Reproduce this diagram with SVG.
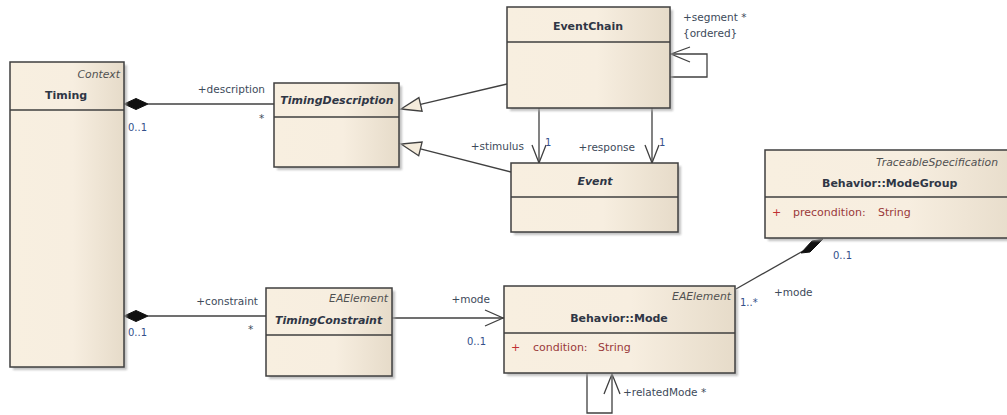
<svg xmlns="http://www.w3.org/2000/svg" width="1007" height="415" viewBox="0 0 1007 415">
  <defs>
    <linearGradient id="boxFill" x1="0" y1="0" x2="1" y2="0">
      <stop offset="0" stop-color="#f8efe0"/>
      <stop offset="0.55" stop-color="#f7eee0"/>
      <stop offset="1" stop-color="#e6dbc9"/>
    </linearGradient>
    <filter id="soft" x="-5%" y="-5%" width="110%" height="110%">
      <feGaussianBlur stdDeviation="0.8"/>
    </filter>
  </defs>
  <style>
    .shadow { fill: #a9a9a9; opacity: 0.7; filter: url(#soft); }
    .box { fill: url(#boxFill); stroke: #3f3f3f; stroke-width: 1.5; }
    .sep { stroke: #3f3f3f; stroke-width: 1.5; }
    .name { font-family: "DejaVu Sans", sans-serif; font-size: 11px; font-weight: bold; fill: #2f3645; }
    .abstract { font-style: italic; }
    .stereo { font-family: "DejaVu Sans", sans-serif; font-size: 10.8px; font-style: italic; fill: #505050; }
    .attr { font-family: "DejaVu Sans", sans-serif; font-size: 11px; fill: #9a3a3a; }
    .vis { font-family: "DejaVu Sans", sans-serif; font-size: 11px; fill: #c03030; }
    .role { font-family: "DejaVu Sans", sans-serif; font-size: 10.5px; fill: #3d4a5a; }
    .mult { font-family: "DejaVu Sans", sans-serif; font-size: 10px; fill: #33508a; }
    .edge { fill: none; stroke: #404040; stroke-width: 1.3; }
    .open { fill: none; stroke: #404040; stroke-width: 1.3; }
    .tri { fill: #f5ecdc; stroke: #404040; stroke-width: 1.3; }
    .dia { fill: #101010; stroke: #101010; stroke-width: 1; }
  </style>

  <!-- connectors -->
  <g id="connectors">
    <!-- Timing composes TimingDescription -->
    <line class="edge" x1="148" y1="104" x2="274" y2="104"/>
    <polygon class="dia" points="124,104 136,98.5 148,104 136,109.5"/>
    <text class="role" x="265" y="93" text-anchor="end">+description</text>
    <text class="mult" x="128" y="131">0..1</text>
    <text class="role" x="259" y="122">*</text>

    <!-- EventChain generalizes TimingDescription -->
    <line class="edge" x1="507" y1="84" x2="420.5" y2="104.4"/>
    <polygon class="tri" points="401,109 422.1,111.2 418.9,97.6"/>

    <!-- Event generalizes TimingDescription -->
    <line class="edge" x1="511" y1="172" x2="420.4" y2="148.9"/>
    <polygon class="tri" points="401,144 418.7,155.7 422.1,142.1"/>

    <!-- EventChain to Event: stimulus / response -->
    <line class="edge" x1="539" y1="108" x2="539" y2="163"/>
    <polyline class="open" points="532,145 539,163 546,145"/>
    <line class="edge" x1="652" y1="108" x2="652" y2="163"/>
    <polyline class="open" points="645,145 652,163 659,145"/>
    <text class="role" x="524" y="150" text-anchor="end">+stimulus</text>
    <text class="mult" x="545" y="146">1</text>
    <text class="role" x="635" y="151" text-anchor="end">+response</text>
    <text class="mult" x="659" y="146">1</text>

    <!-- EventChain segment self association -->
    <polyline class="edge" points="670,77 707,77 707,54 670,54"/>
    <polyline class="open" points="690,47 671,54 690,62"/>
    <text class="role" x="683" y="21">+segment *</text>
    <text class="role" x="683" y="37">{ordered}</text>

    <!-- Timing composes TimingConstraint -->
    <line class="edge" x1="148" y1="316" x2="266" y2="316"/>
    <polygon class="dia" points="124,316 136,310.5 148,316 136,321.5"/>
    <text class="role" x="258" y="305" text-anchor="end">+constraint</text>
    <text class="mult" x="128" y="336">0..1</text>
    <text class="role" x="248" y="333">*</text>

    <!-- TimingConstraint to Mode -->
    <line class="edge" x1="392" y1="318" x2="504" y2="318"/>
    <polyline class="open" points="485,310 503,318 485,326"/>
    <text class="role" x="490" y="303" text-anchor="end">+mode</text>
    <text class="mult" x="467" y="345">0..1</text>

    <!-- ModeGroup composes Mode -->
    <line class="edge" x1="736" y1="289" x2="803" y2="251"/>
    <polygon class="dia" points="801,253 812,241 823,239 810,252"/>
    <text class="mult" x="833" y="259">0..1</text>
    <text class="role" x="774" y="296">+mode</text>
    <text class="mult" x="740" y="306">1..*</text>

    <!-- Mode relatedMode self association -->
    <polyline class="edge" points="587,373 587,413 612,413 612,374"/>
    <polyline class="open" points="604,394 612,374 620,394"/>
    <text class="role" x="623" y="396">+relatedMode *</text>
  </g>

  <!-- Timing -->
  <g id="timing">
    <rect class="shadow" x="13" y="65" width="114" height="305"/>
    <rect class="box" x="10" y="62" width="114" height="305"/>
    <line class="sep" x1="10" y1="110" x2="124" y2="110"/>
    <text class="stereo" x="120" y="78" text-anchor="end">Context</text>
    <text class="name" x="45" y="99">Timing</text>
  </g>

  <!-- TimingDescription -->
  <g id="timingDescription">
    <rect class="shadow" x="277" y="86" width="125" height="84"/>
    <rect class="box" x="274" y="83" width="125" height="84"/>
    <line class="sep" x1="274" y1="117" x2="399" y2="117"/>
    <text class="name abstract" x="337" y="104" text-anchor="middle">TimingDescription</text>
  </g>

  <!-- EventChain -->
  <g id="eventChain">
    <rect class="shadow" x="510" y="10" width="163" height="101"/>
    <rect class="box" x="507" y="7" width="163" height="101"/>
    <line class="sep" x1="507" y1="42" x2="670" y2="42"/>
    <text class="name" x="588" y="30" text-anchor="middle">EventChain</text>
  </g>

  <!-- Event -->
  <g id="event">
    <rect class="shadow" x="514" y="166" width="167" height="69"/>
    <rect class="box" x="511" y="163" width="167" height="69"/>
    <line class="sep" x1="511" y1="197" x2="678" y2="197"/>
    <text class="name abstract" x="595" y="185" text-anchor="middle">Event</text>
  </g>

  <!-- Behavior::ModeGroup -->
  <g id="modeGroup">
    <rect class="shadow" x="768" y="153" width="260" height="88"/>
    <rect class="box" x="765" y="150" width="260" height="88"/>
    <line class="sep" x1="765" y1="197" x2="1025" y2="197"/>
    <text class="stereo" x="876" y="166">TraceableSpecification</text>
    <text class="name" x="822" y="187">Behavior::ModeGroup</text>
    <text class="vis" x="772" y="216">+</text>
    <text class="attr" x="793" y="216">precondition:</text>
    <text class="attr" x="878" y="216">String</text>
  </g>

  <!-- TimingConstraint -->
  <g id="timingConstraint">
    <rect class="shadow" x="269" y="291" width="126" height="88"/>
    <rect class="box" x="266" y="288" width="126" height="88"/>
    <line class="sep" x1="266" y1="335" x2="392" y2="335"/>
    <text class="stereo" x="388" y="302" text-anchor="end">EAElement</text>
    <text class="name abstract" x="275" y="324">TimingConstraint</text>
  </g>

  <!-- Behavior::Mode -->
  <g id="mode">
    <rect class="shadow" x="507" y="289" width="231" height="87"/>
    <rect class="box" x="504" y="286" width="231" height="87"/>
    <line class="sep" x1="504" y1="333" x2="735" y2="333"/>
    <text class="stereo" x="731" y="300" text-anchor="end">EAElement</text>
    <text class="name" x="619" y="322" text-anchor="middle">Behavior::Mode</text>
    <text class="vis" x="511" y="351">+</text>
    <text class="attr" x="533" y="351">condition:</text>
    <text class="attr" x="598" y="351">String</text>
  </g>
</svg>
